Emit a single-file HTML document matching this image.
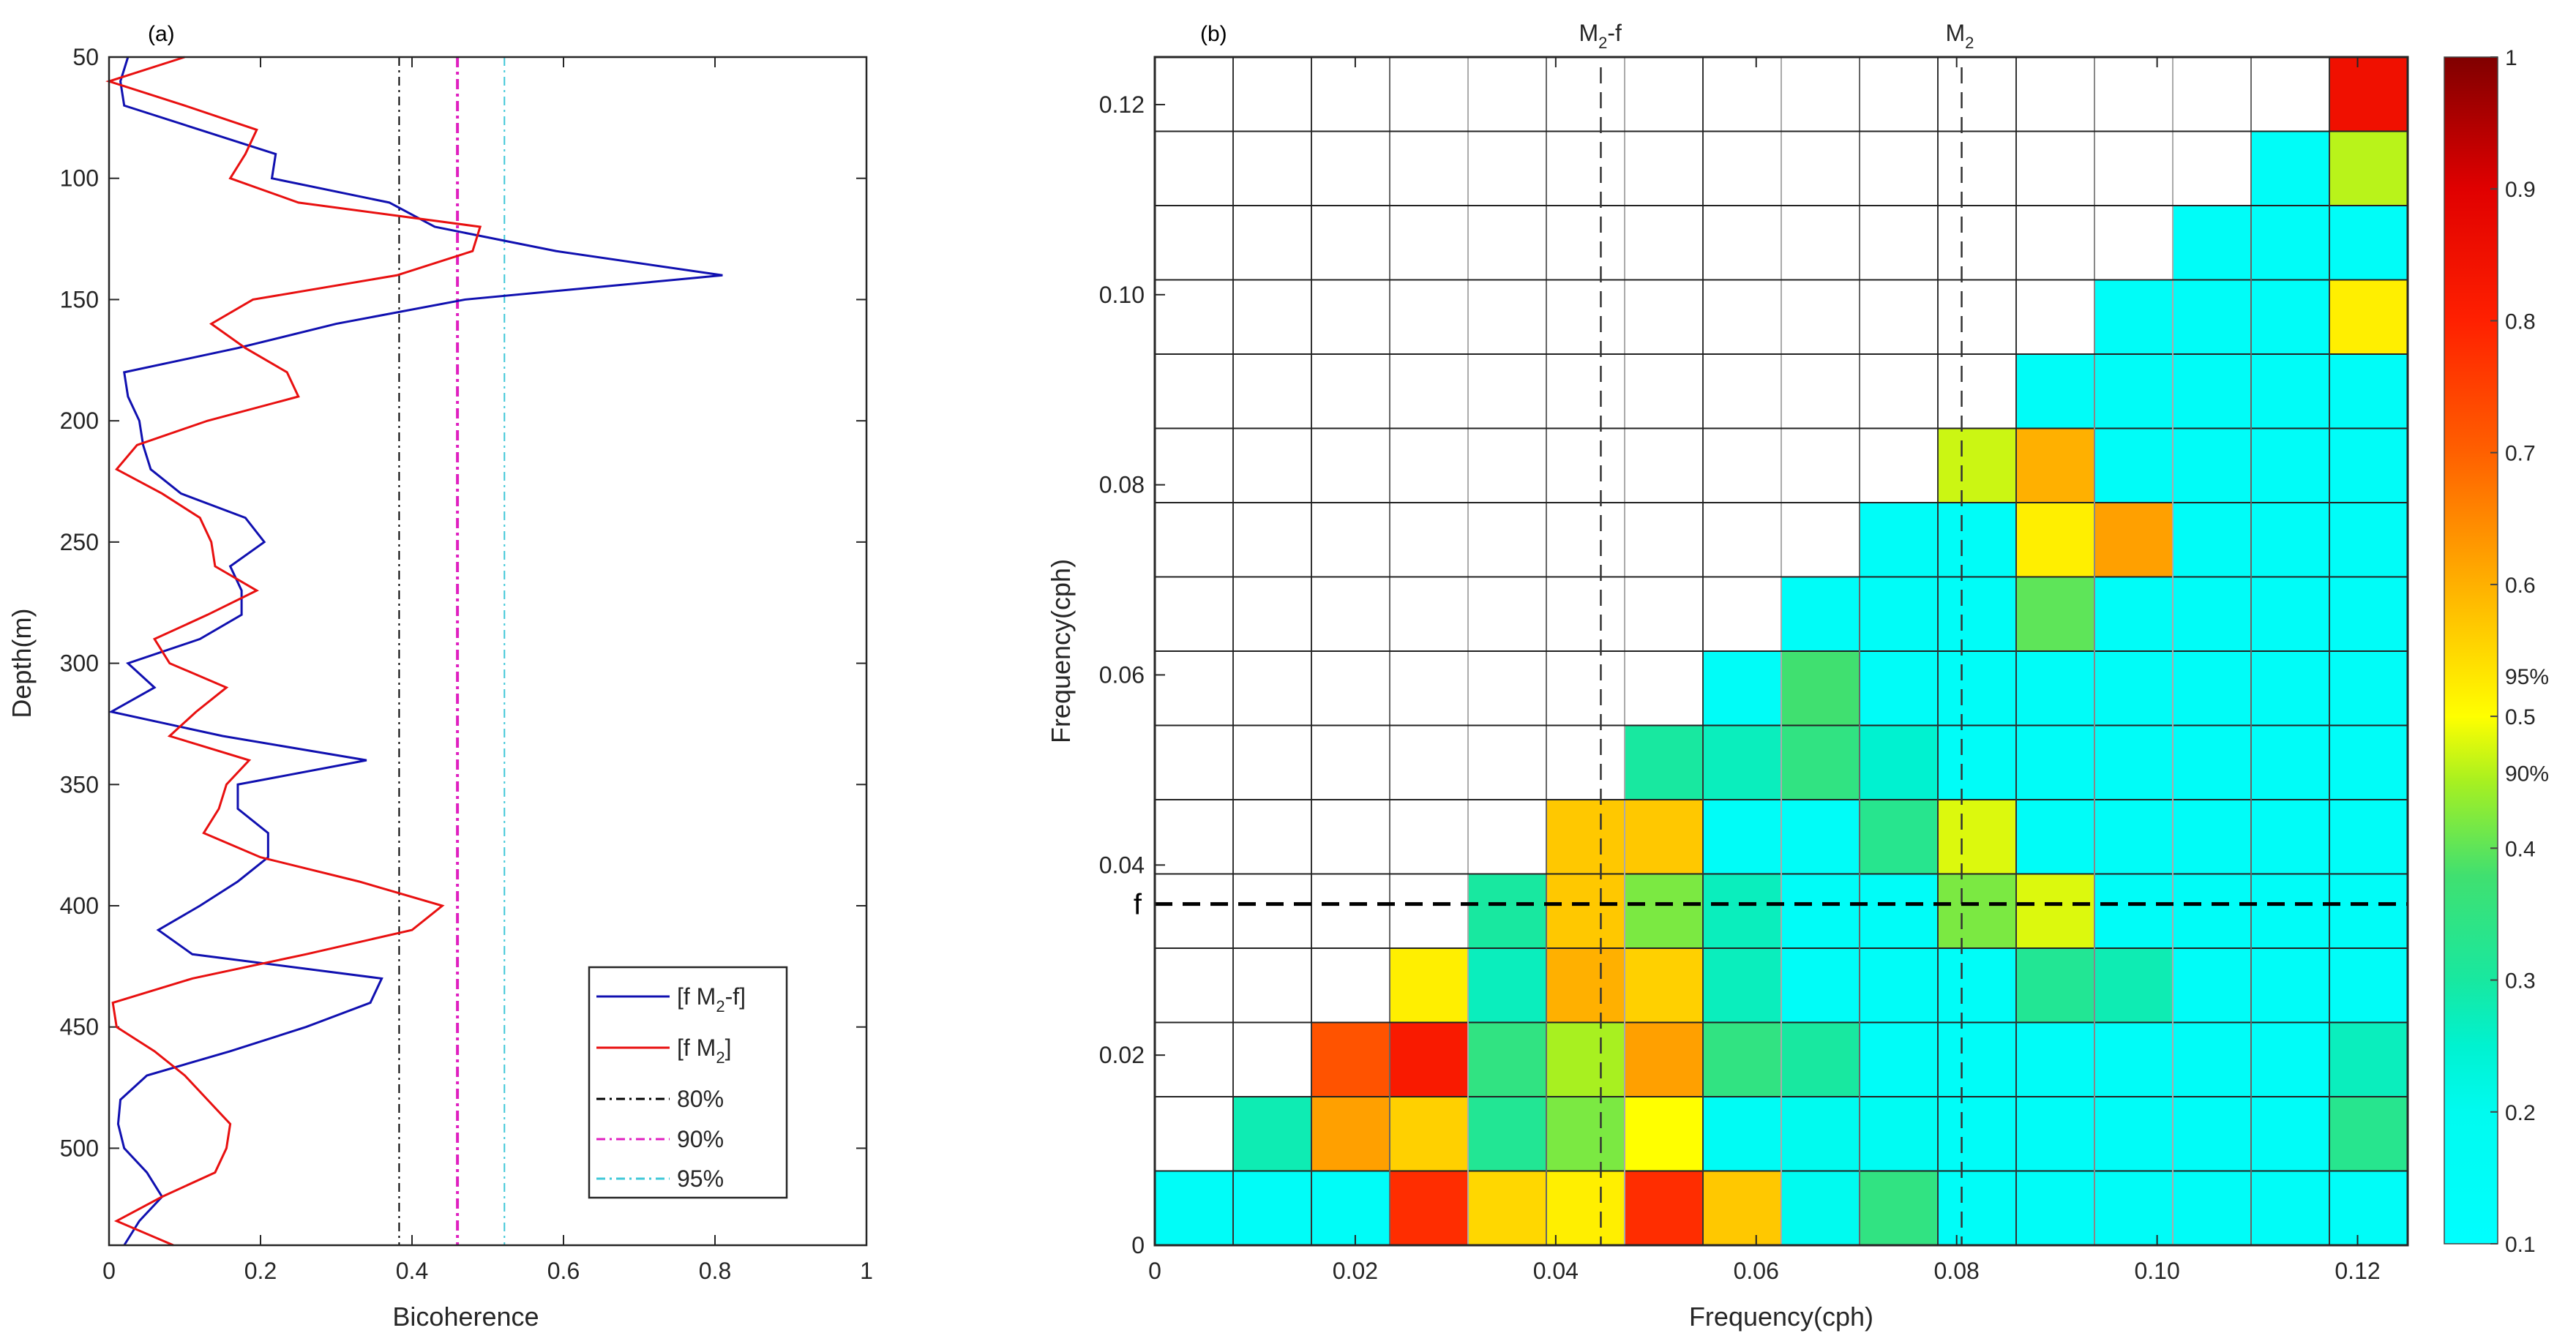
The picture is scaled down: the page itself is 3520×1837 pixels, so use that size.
<!DOCTYPE html>
<html><head><meta charset="utf-8"><style>
html,body{margin:0;padding:0;background:#fff;}
svg{display:block;font-family:"Liberation Sans",Arial,sans-serif;}
</style></head><body>
<svg id="fig" width="3520" height="1837" viewBox="0 0 3520 1837" xmlns="http://www.w3.org/2000/svg">
<defs>
<linearGradient id="cbgrad" x1="0" y1="1" x2="0" y2="0">
<stop offset="0" stop-color="#00ffff"/><stop offset="0.111" stop-color="#00fbf0"/>
<stop offset="0.167" stop-color="#00f2d0"/><stop offset="0.222" stop-color="#18e8a0"/>
<stop offset="0.31" stop-color="#40e070"/><stop offset="0.39" stop-color="#a8f020"/>
<stop offset="0.444" stop-color="#ffff00"/><stop offset="0.556" stop-color="#ffb000"/>
<stop offset="0.667" stop-color="#ff6000"/><stop offset="0.778" stop-color="#ff2000"/>
<stop offset="0.889" stop-color="#e00000"/><stop offset="1" stop-color="#800000"/>
</linearGradient>
</defs>
<g id="left"></g>
<g id="right"></g>
</svg>
<script>
// ---------- Panel (a) data ----------
const depths = [50,60,70,80,90,100,110,120,130,140,150,160,170,180,190,200,210,220,230,240,250,260,270,280,290,300,310,320,330,340,350,360,370,380,390,400,410,420,430,440,450,460,470,480,490,500,510,520,530,540];
const blueSeries = [0.025,0.015,0.02,0.12,0.22,0.215,0.37,0.43,0.59,0.81,0.47,0.3,0.17,0.02,0.025,0.04,0.045,0.055,0.095,0.18,0.205,0.16,0.175,0.175,0.12,0.025,0.06,0.003,0.15,0.34,0.17,0.17,0.21,0.21,0.17,0.12,0.065,0.11,0.36,0.345,0.26,0.16,0.05,0.015,0.012,0.02,0.05,0.07,0.04,0.02];
const redSeries = [0.1,0.0,0.1,0.195,0.18,0.16,0.25,0.49,0.48,0.38,0.19,0.135,0.18,0.235,0.25,0.13,0.037,0.01,0.07,0.12,0.135,0.14,0.195,0.13,0.06,0.08,0.155,0.115,0.08,0.185,0.155,0.145,0.125,0.2,0.33,0.44,0.4,0.26,0.11,0.005,0.01,0.06,0.1,0.13,0.16,0.155,0.14,0.07,0.01,0.085];
const thresholds = [0.383,0.46,0.522];
const thresholdLabels = ["80%","90%","95%"];
const aXTicks = [0,0.2,0.4,0.6,0.8,1];
const aYTicks = [50,100,150,200,250,300,350,400,450,500];

// ---------- Panel (b) data ----------
const NaN_ = null;
// rows from bottom (row 0 = 0..0.0078 cph), 16 columns
const heatRows = [
 [0.15,0.15,0.15,0.78,0.55,0.52,0.78,0.57,0.2,0.35,0.15,0.15,0.15,0.15,0.15,0.15],
 [null,0.28,0.62,0.56,0.32,0.42,0.5,0.17,0.2,0.18,0.15,0.15,0.15,0.15,0.15,0.33],
 [null,null,0.72,0.82,0.35,0.45,0.62,0.35,0.3,0.15,0.15,0.15,0.15,0.15,0.15,0.27],
 [null,null,null,0.52,0.27,0.6,0.56,0.27,0.15,0.15,0.15,0.32,0.28,0.15,0.15,0.15],
 [null,null,null,null,0.3,0.57,0.42,0.27,0.15,0.15,0.42,0.48,0.15,0.15,0.15,0.15],
 [null,null,null,null,null,0.57,0.57,0.15,0.15,0.33,0.48,0.15,0.15,0.15,0.15,0.15],
 [null,null,null,null,null,null,0.3,0.27,0.35,0.25,0.15,0.15,0.15,0.15,0.15,0.15],
 [null,null,null,null,null,null,null,0.15,0.38,0.15,0.15,0.15,0.15,0.15,0.15,0.15],
 [null,null,null,null,null,null,null,null,0.15,0.15,0.15,0.4,0.15,0.15,0.15,0.15],
 [null,null,null,null,null,null,null,null,null,0.15,0.15,0.52,0.62,0.15,0.15,0.15],
 [null,null,null,null,null,null,null,null,null,null,0.47,0.6,0.15,0.15,0.15,0.15],
 [null,null,null,null,null,null,null,null,null,null,null,0.15,0.15,0.15,0.15,0.15],
 [null,null,null,null,null,null,null,null,null,null,null,null,0.15,0.15,0.15,0.52],
 [null,null,null,null,null,null,null,null,null,null,null,null,null,0.15,0.15,0.15],
 [null,null,null,null,null,null,null,null,null,null,null,null,null,null,0.15,0.46],
 [null,null,null,null,null,null,null,null,null,null,null,null,null,null,null,0.85]
];
const cellSize = [0.0078125];
const bXTicks = [0,0.02,0.04,0.06,0.08,0.10,0.12];
const bXTickLabels = ["0","0.02","0.04","0.06","0.08","0.10","0.12"];
const bYTicks = [0,0.02,0.04,0.06,0.08,0.10,0.12];
const bYTickLabels = ["0","0.02","0.04","0.06","0.08","0.10","0.12"];
const markerFreqs = [0.0445,0.0805];
const fFreq = [0.0359];
const cbTicks = [0.1,0.2,0.3,0.4,0.5,0.6,0.7,0.8,0.9,1];
const cbPctTicks = [0.457,0.52];
const cbPctLabels = ["90%","95%"];

const NS="http://www.w3.org/2000/svg";
function mk(parent,tag,attrs,text){const e=document.createElementNS(NS,tag);for(const k in attrs)e.setAttribute(k,attrs[k]);if(text!==undefined)e.textContent=text;parent.appendChild(e);return e;}

// ===== Panel a =====
const A={x0:149,x1:1184,y0:78,y1:1702};
const ax=v=>A.x0+(v-0)/(1-0)*(A.x1-A.x0);
const ay=d=>A.y0+(d-50)/(540-50)*(A.y1-A.y0);
const L=document.getElementById('left');
aXTicks.forEach(t=>{
  mk(L,'line',{x1:ax(t),x2:ax(t),y1:A.y1,y2:A.y1-14,stroke:'#262626','stroke-width':2});
  mk(L,'line',{x1:ax(t),x2:ax(t),y1:A.y0,y2:A.y0+14,stroke:'#262626','stroke-width':2});
  const tx=mk(L,'text',{x:ax(t),y:A.y1+46,'text-anchor':'middle','font-size':32,fill:'#262626'},String(t));
  
  
});
aYTicks.forEach(t=>{
  mk(L,'line',{x1:A.x0,x2:A.x0+14,y1:ay(t),y2:ay(t),stroke:'#262626','stroke-width':2});
  mk(L,'line',{x1:A.x1,x2:A.x1-14,y1:ay(t),y2:ay(t),stroke:'#262626','stroke-width':2});
  const tx=mk(L,'text',{x:A.x0-14,y:ay(t)+11,'text-anchor':'end','font-size':32,fill:'#262626'},String(t));
  
  
});
const thColors=['#000000','#e020c0','#40c8d8'];
const thDash=['12,6,3,6','14,6,4,6','12,6,3,6'];
const thW=[2,4,2];
thresholds.forEach((v,i)=>{
  const l=mk(L,'line',{x1:ax(v),x2:ax(v),y1:A.y0,y2:A.y1,stroke:thColors[i],'stroke-width':thW[i],'stroke-dasharray':thDash[i]});
  
  
});
function poly(series,color,name){
  const p=series.map((v,i)=>ax(v)+','+ay(depths[i])).join(' ');
  const e=mk(L,'polyline',{points:p,fill:'none',stroke:color,'stroke-width':3});
  
  
}
poly(blueSeries,'#1010b0','series-f-m2-minus-f');
poly(redSeries,'#e81010','series-f-m2');
mk(L,'rect',{x:A.x0,y:A.y0,width:A.x1-A.x0,height:A.y1-A.y0,fill:'none',stroke:'#262626','stroke-width':2.5});
const ta=mk(L,'text',{x:202,y:56,'font-size':30,fill:'#000'},'(a)');

const xl=mk(L,'text',{x:ax(0.5)-30,y:1812,'text-anchor':'middle','font-size':36,fill:'#262626'},'Bicoherence');

const yl=mk(L,'text',{x:0,y:0,'text-anchor':'middle','font-size':36,fill:'#262626',transform:'translate(42,'+ay(300)+') rotate(-90)'},'Depth(m)');

// legend
const lg=mk(L,'g',{});

mk(lg,'rect',{x:805,y:1322,width:270,height:315,fill:'#fff',stroke:'#262626','stroke-width':2.5});
const legY=[1362,1432,1502,1557,1611];
const legC=['#1010b0','#e81010','#000','#e020c0','#40c8d8'];
const legD=['none','none','12,6,3,6','12,6,3,6','12,6,3,6'];
legY.forEach((y,i)=>{mk(lg,'line',{x1:815,x2:915,y1:y,y2:y,stroke:legC[i],'stroke-width':3,'stroke-dasharray':legD[i]});});
function legText(y,parts){const t=mk(lg,'text',{x:925,y:y+11,'font-size':32,fill:'#262626'});parts.forEach(p=>{const s=mk(t,'tspan',p.sub?{'font-size':22,dy:10}:(p.back?{dy:-10}:{}),p.t);});return t;}
legText(legY[0],[{t:'[f  M'},{t:'2',sub:1},{t:'-f]',back:1}]);
legText(legY[1],[{t:'[f  M'},{t:'2',sub:1},{t:']',back:1}]);
thresholdLabels.forEach((s,i)=>{const t=legText(legY[2+i],[{t:s}]);});

// ===== Panel b =====
const B={x0:1578,x1:3290,y0:78,y1:1702};
const bx=v=>B.x0+v/0.125*(B.x1-B.x0);
const by=v=>B.y1-v/0.125*(B.y1-B.y0);
const R=document.getElementById('right');
const stops=[[0.1,[0,255,255]],[0.2,[0,251,240]],[0.25,[0,242,208]],[0.3,[24,232,160]],[0.38,[64,224,112]],[0.45,[168,240,32]],[0.5,[255,255,0]],[0.6,[255,176,0]],[0.7,[255,96,0]],[0.8,[255,32,0]],[0.9,[224,0,0]],[1,[128,0,0]]];
function cmap(v){for(let i=1;i<stops.length;i++){if(v<=stops[i][0]){const a=stops[i-1],b=stops[i];const t=(v-a[0])/(b[0]-a[0]);const c=a[1].map((x,k)=>Math.round(x+(b[1][k]-x)*t));return 'rgb('+c.join(',')+')';}}return 'rgb(128,0,0)';}
const cs=cellSize[0];
heatRows.forEach((row,r)=>{row.forEach((v,c)=>{
  if(v===null)return;
  const e=mk(R,'rect',{x:bx(c*cs),y:by((r+1)*cs),width:bx((c+1)*cs)-bx(c*cs)+0.5,height:by(r*cs)-by((r+1)*cs)+0.5,fill:cmap(v)});
  
  
});});
for(let i=1;i<16;i++){
  const shade=[ '#333','#333','#666','#aaa','#666','#aaa','#333','#aaa','#666','#333','#333','#888','#aaa','#666','#333'][i-1];
  mk(R,'line',{x1:bx(i*cs),x2:bx(i*cs),y1:B.y0,y2:B.y1,stroke:shade,'stroke-width':2});
  mk(R,'line',{x1:B.x0,x2:B.x1,y1:by(i*cs),y2:by(i*cs),stroke:'#222','stroke-width':2});
}
markerFreqs.forEach((f,i)=>{
  const l=mk(R,'line',{x1:bx(f),x2:bx(f),y1:B.y0+14,y2:B.y1,stroke:'#333','stroke-width':2.5,'stroke-dasharray':'22,12'});
  
  
});
const fl=mk(R,'line',{x1:B.x0,x2:B.x1,y1:by(fFreq[0]),y2:by(fFreq[0]),stroke:'#000','stroke-width':5,'stroke-dasharray':'24,14'});

mk(R,'rect',{x:B.x0,y:B.y0,width:B.x1-B.x0,height:B.y1-B.y0,fill:'none',stroke:'#262626','stroke-width':3});
bXTicks.forEach((t,i)=>{
  mk(R,'line',{x1:bx(t),x2:bx(t),y1:B.y1,y2:B.y1-14,stroke:'#262626','stroke-width':2});
  mk(R,'line',{x1:bx(t),x2:bx(t),y1:B.y0,y2:B.y0+14,stroke:'#262626','stroke-width':2});
  const tx=mk(R,'text',{x:bx(t),y:B.y1+46,'text-anchor':'middle','font-size':32,fill:'#262626'},bXTickLabels[i]);
  
});
bYTicks.forEach((t,i)=>{
  mk(R,'line',{x1:B.x0,x2:B.x0+14,y1:by(t),y2:by(t),stroke:'#262626','stroke-width':2});
  const tx=mk(R,'text',{x:B.x0-14,y:by(t)+11,'text-anchor':'end','font-size':32,fill:'#262626'},bYTickLabels[i]);
  
});
const ft=mk(R,'text',{x:B.x0-18,y:by(fFreq[0])+14,'text-anchor':'end','font-size':40,fill:'#000'},'f');

const tb=mk(R,'text',{x:1640,y:56,'font-size':30,fill:'#000'},'(b)');

const m1=mk(R,'text',{x:bx(markerFreqs[0])-30,y:56,'font-size':32,fill:'#262626'});

mk(m1,'tspan',{},'M');mk(m1,'tspan',{'font-size':22,dy:10},'2');mk(m1,'tspan',{dy:-10},'-f');
const m2=mk(R,'text',{x:bx(markerFreqs[1])-22,y:56,'font-size':32,fill:'#262626'});

mk(m2,'tspan',{},'M');mk(m2,'tspan',{'font-size':22,dy:10},'2');
const bxl=mk(R,'text',{x:bx(0.0625),y:1812,'text-anchor':'middle','font-size':36,fill:'#262626'},'Frequency(cph)');

const byl=mk(R,'text',{x:0,y:0,'text-anchor':'middle','font-size':36,fill:'#262626',transform:'translate(1462,'+by(0.0625)+') rotate(-90)'},'Frequency(cph)');

// colorbar
const C={x0:3340,x1:3413,y0:78,y1:1700};
const cy=v=>C.y1-(v-0.1)/0.9*(C.y1-C.y0);
const cb=mk(R,'rect',{x:C.x0,y:C.y0,width:C.x1-C.x0,height:C.y1-C.y0,fill:'url(#cbgrad)',stroke:'#444','stroke-width':1.5});

cbTicks.forEach(t=>{
  mk(R,'line',{x1:C.x1,x2:C.x1-10,y1:cy(t),y2:cy(t),stroke:'#444','stroke-width':2});
  const tx=mk(R,'text',{x:C.x1+10,y:cy(t)+11,'font-size':30,fill:'#262626'},String(t));
  
});
cbPctTicks.forEach((t,i)=>{
  const tx=mk(R,'text',{x:C.x1+10,y:cy(t)+(i===1?-8:11),'font-size':30,fill:'#262626'},cbPctLabels[i]);
  
});
</script>
</body></html>
